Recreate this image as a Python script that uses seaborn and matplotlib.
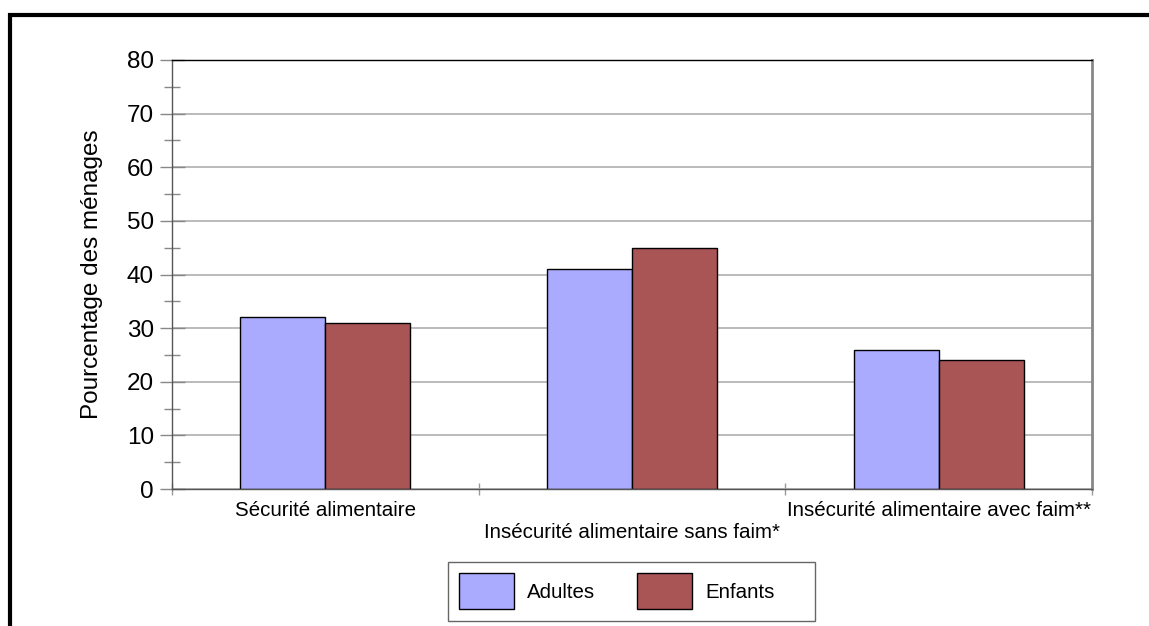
import matplotlib
matplotlib.use("Agg")
import matplotlib.pyplot as plt
from matplotlib.patches import Rectangle
import seaborn as sns
import pandas as pd

# Share of households by food-security status, adults vs children
categories = ["Sécurité alimentaire",
              "Insécurité alimentaire sans faim*",
              "Insécurité alimentaire avec faim**"]
groups = ["Adultes", "Enfants"]
adultes = [32, 41, 26]
enfants = [31, 45, 24]
yticks = [0, 10, 20, 30, 40, 50, 60, 70, 80]
ylabel = "Pourcentage des ménages"

colors = {"Adultes": "#AAAAFF", "Enfants": "#AA5555"}

df = pd.DataFrame({
    "categorie": categories * 2,
    "groupe": [groups[0]] * 3 + [groups[1]] * 3,
    "valeur": adultes + enfants,
})

sns.set_style("white")
plt.rcParams["font.family"] = ["Liberation Sans", "DejaVu Sans"]
plt.rcParams["text.color"] = "black"
plt.rcParams["axes.labelcolor"] = "black"

fig = plt.figure(figsize=(11.49, 6.26), dpi=100)
ax = fig.add_axes([172 / 1149, 1 - 489 / 626, (1092 - 172) / 1149, (489 - 60) / 626])

sns.barplot(data=df, x="categorie", y="valeur", hue="groupe",
            order=categories, hue_order=groups, palette=colors,
            width=0.555, gap=0, edgecolor="black", linewidth=1.0,
            saturation=1, ax=ax, legend=True)

ax.set_xlim(-0.5, 2.5)
ax.set_ylim(0, 80)

# y axis: major labelled ticks and minor half-step ticks
ax.set_yticks(yticks)
ax.set_yticks([5, 15, 25, 35, 45, 55, 65, 75], minor=True)
ax.tick_params(axis="y", which="both", left=True)
ax.tick_params(axis="y", which="major", direction="inout", length=18,
               width=1, color="#888888", labelsize=17.5, pad=4,
               labelcolor="black")
ax.tick_params(axis="y", which="minor", direction="inout", length=12,
               width=1, color="#888888")
ax.yaxis.grid(True, which="major", color="#b5b5b5", linewidth=1.3)
ax.set_axisbelow(True)

# x axis: boundary ticks between groups, staggered labels at group centres
ax.set_xticks([-0.5, 0.5, 1.5, 2.5], ["", "", "", ""])
ax.tick_params(axis="x", which="both", bottom=True)
ax.tick_params(axis="x", which="major", direction="inout", length=9,
               width=1, color="#999999")
shown = [c if i != 1 else "\n" + c for i, c in enumerate(categories)]
ax.set_xticks([0, 1, 2], shown, minor=True)
ax.tick_params(axis="x", which="minor", length=0, labelsize=14.8, pad=9,
               labelcolor="black")
for lab in ax.get_xticklabels(minor=True):
    lab.set_linespacing(1.15)
ax.set_xlabel("")
ax.set_ylabel(ylabel, fontsize=17.5, labelpad=17, color="black")

for side in ["left", "bottom"]:
    ax.spines[side].set_color("#555555")
    ax.spines[side].set_linewidth(1.0)
ax.spines["top"].set_color("black")
ax.spines["top"].set_linewidth(1.0)
ax.spines["right"].set_color("#888888")
ax.spines["right"].set_linewidth(2.0)

# legend below the plot, inside a fixed box
handles, labels = ax.get_legend_handles_labels()
ax.get_legend().remove()
leg = fig.legend(handles, labels, loc="upper left", ncol=2,
                 bbox_to_anchor=(448 / 1149, 1 - 562 / 626),
                 fontsize=14.8, frameon=False,
                 handlelength=2.65, handleheight=2.3,
                 handletextpad=0.64, columnspacing=2.06, borderpad=0.55,
                 borderaxespad=0, labelcolor="black")
fig.add_artist(Rectangle((448 / 1149, 1 - 621 / 626), 367 / 1149, 59 / 626,
                         transform=fig.transFigure, fill=False,
                         edgecolor="#666666", linewidth=1.0))

# outer frame around the figure
fig.add_artist(Rectangle((9.5 / 1149, -0.2), 1.3, 1.2 - 14.5 / 626,
                         transform=fig.transFigure, fill=False,
                         edgecolor="black", linewidth=3, clip_on=False))

fig.savefig("out.png", dpi=100)
